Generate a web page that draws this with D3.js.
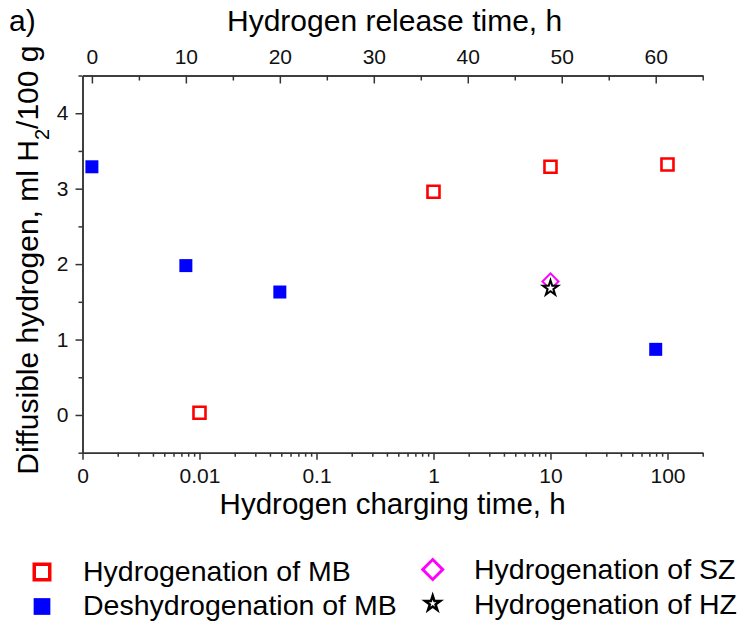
<!DOCTYPE html>
<html>
<head>
<meta charset="utf-8">
<script src="https://d3js.org/d3.v7.min.js"></script>
<style>
  body { margin: 0; background: #fff; }
  svg { display: block; font-family: "Liberation Sans", Arial, sans-serif; }
  .axis path, .axis line { stroke: #333; stroke-width: 1.5; }
  .axis text { font-size: 21px; fill: #111; font-family: "Liberation Sans", Arial, sans-serif; }
</style>
</head>
<body>
<svg id="chart" width="741" height="624"></svg>
<script>
// ---------------- data ----------------
var chargeTimes = [0.01, 1, 10, 100];            // h, bottom log axis
var hydrogenationMB = [0.03, 2.96, 3.29, 3.32];

var releaseTimes = [0, 10, 20, 60];              // h, top linear axis
var deshydrogenationMB = [3.29, 1.98, 1.63, 0.87];

var chargeTimeSZ = [10];
var hydrogenationSZ = [1.77];

var chargeTimeHZ = [10];
var hydrogenationHZ = [1.68];

var bottomTicks = [0.001, 0.01, 0.1, 1, 10, 100];
var bottomLabels = ["0", "0.01", "0.1", "1", "10", "100"];
var topTicks = [0, 10, 20, 30, 40, 50, 60];
var yTicks = [0, 1, 2, 3, 4];

var legendLabels = ["Hydrogenation of MB", "Deshydrogenation of MB", "Hydrogenation of SZ", "Hydrogenation of HZ"];

// ---------------- layout ----------------
var svg = d3.select("#chart");
var margin = { top: 75.5, right: 38.3, bottom: 171.3, left: 82.5 };
var width = 741 - margin.left - margin.right;
var height = 624 - margin.top - margin.bottom;
var g = svg.append("g").attr("transform", "translate(" + margin.left + "," + margin.top + ")");

var x = d3.scaleLog().domain([0.001, 200]).range([0, width]);
var xTop = d3.scaleLinear().domain([-1, 65]).range([0, width]);
var y = d3.scaleLinear().domain([-0.5, 4.5]).range([height, 0]);

// minor ticks for the log axis
var minorLog = [];
[0.001, 0.01, 0.1, 1, 10, 100].forEach(function(d) {
    for (var k = 2; k <= 9; k++) {
        if (d * k <= 200) minorLog.push(d * k);
    }
});

// ---------------- axes ----------------
// bottom, minor
g.append("g").attr("class", "axis")
    .attr("transform", "translate(0," + height + ")")
    .call(d3.axisBottom(x).tickValues(minorLog).tickSize(4).tickSizeOuter(0).tickFormat(""));
// bottom, major
var bx = g.append("g").attr("class", "axis")
    .attr("transform", "translate(0," + height + ")")
    .call(d3.axisBottom(x).tickValues(bottomTicks).tickSize(7).tickSizeOuter(0)
        .tickFormat(function(d, i) { return bottomLabels[i]; }));
bx.selectAll("text").attr("y", 30.5).attr("dy", "0");

// top, minor + major (ticks point inward)
g.append("g").attr("class", "axis")
    .call(d3.axisTop(xTop).tickValues([5, 15, 25, 35, 45, 55, 65]).tickSize(-5).tickSizeOuter(0).tickFormat(""));
var tx = g.append("g").attr("class", "axis")
    .call(d3.axisTop(xTop).tickValues(topTicks).tickSize(-8).tickSizeOuter(0).tickFormat(d3.format("d")));
tx.selectAll("text").attr("y", -12).attr("dy", "0");

// left, minor + major
g.append("g").attr("class", "axis")
    .call(d3.axisLeft(y).tickValues([-0.5, 0.5, 1.5, 2.5, 3.5, 4.5]).tickSize(4).tickSizeOuter(0).tickFormat(""));
var ly = g.append("g").attr("class", "axis")
    .call(d3.axisLeft(y).tickValues(yTicks).tickSize(7).tickSizeOuter(0).tickFormat(d3.format("d")));
ly.selectAll("text").attr("x", -14);

// ---------------- titles ----------------
svg.append("text")
    .attr("x", 9).attr("y", 31)
    .style("font-size", "30px")
    .text("a)");

svg.append("text")
    .attr("x", margin.left + width / 2 + 2).attr("y", 31)
    .attr("text-anchor", "middle")
    .style("font-size", "30px")
    .text("Hydrogen release time, h");

svg.append("text")
    .attr("x", margin.left + width / 2).attr("y", 514)
    .attr("text-anchor", "middle")
    .style("font-size", "29.5px")
    .text("Hydrogen charging time, h");

var yt = svg.append("text")
    .attr("transform", "translate(38," + (margin.top + height / 2 - 4) + ") rotate(-90)")
    .attr("text-anchor", "middle")
    .style("font-size", "30px");
yt.append("tspan").text("Diffusible hydrogen, ml H");
yt.append("tspan").attr("baseline-shift", "sub").style("font-size", "20px").text("2");
yt.append("tspan").text("/100 g");

// ---------------- marks ----------------
var square = d3.symbol().type(d3.symbolSquare);
var star = d3.symbol().type(d3.symbolStar);

g.selectAll(".blue")
    .data(releaseTimes.map(function(t, i) { return [t, deshydrogenationMB[i]]; }))
    .enter().append("path")
    .attr("class", "blue")
    .attr("transform", function(d) { return "translate(" + xTop(d[0]) + "," + y(d[1]) + ")"; })
    .attr("d", square.size(169)())
    .style("fill", "#0000ff");

g.selectAll(".red")
    .data(chargeTimes.map(function(t, i) { return [t, hydrogenationMB[i]]; }))
    .enter().append("path")
    .attr("class", "red")
    .attr("transform", function(d) { return "translate(" + x(d[0]) + "," + y(d[1]) + ")"; })
    .attr("d", square.size(144)())
    .style("fill", "#fff")
    .style("stroke", "#ff0000")
    .style("stroke-width", 2.6);

g.selectAll(".sz")
    .data(chargeTimeSZ.map(function(t, i) { return [t, hydrogenationSZ[i]]; }))
    .enter().append("path")
    .attr("class", "sz")
    .attr("transform", function(d) { return "translate(" + x(d[0]) + "," + y(d[1]) + ") rotate(45)"; })
    .attr("d", square.size(128)())
    .style("fill", "#fff")
    .style("stroke", "#ff00ff")
    .style("stroke-width", 2);

g.selectAll(".hz")
    .data(chargeTimeHZ.map(function(t, i) { return [t, hydrogenationHZ[i]]; }))
    .enter().append("path")
    .attr("class", "hz")
    .attr("transform", function(d) { return "translate(" + x(d[0]) + "," + y(d[1]) + ")"; })
    .attr("d", star.size(70)())
    .style("fill", "#fff")
    .style("stroke", "#000")
    .style("stroke-width", 2);

// ---------------- legend ----------------
var legend = svg.append("g");
var legendItems = [
    { x: 42, y: 572, tx: 83, ty: 580.5, label: legendLabels[0] },
    { x: 42, y: 606.5, tx: 83, ty: 615, label: legendLabels[1] },
    { x: 432.7, y: 569.5, tx: 474, ty: 578.5, label: legendLabels[2] },
    { x: 432.7, y: 603.5, tx: 474, ty: 614, label: legendLabels[3] }
];
legend.append("path")
    .attr("transform", "translate(" + legendItems[0].x + "," + legendItems[0].y + ")")
    .attr("d", square.size(240)())
    .style("fill", "#fff").style("stroke", "#ff0000").style("stroke-width", 3.5);
legend.append("path")
    .attr("transform", "translate(" + legendItems[1].x + "," + legendItems[1].y + ")")
    .attr("d", square.size(280)())
    .style("fill", "#0000ff");
legend.append("path")
    .attr("transform", "translate(" + legendItems[2].x + "," + legendItems[2].y + ") rotate(45)")
    .attr("d", square.size(200)())
    .style("fill", "#fff").style("stroke", "#ff00ff").style("stroke-width", 3);
legend.append("path")
    .attr("transform", "translate(" + legendItems[3].x + "," + legendItems[3].y + ")")
    .attr("d", star.size(70)())
    .style("fill", "#fff").style("stroke", "#000").style("stroke-width", 2.5);

legend.selectAll(".ltext")
    .data(legendItems)
    .enter().append("text")
    .attr("class", "ltext")
    .attr("x", function(d) { return d.tx; })
    .attr("y", function(d) { return d.ty; })
    .style("font-size", "28.5px")
    .text(function(d) { return d.label; });
</script>
</body>
</html>
